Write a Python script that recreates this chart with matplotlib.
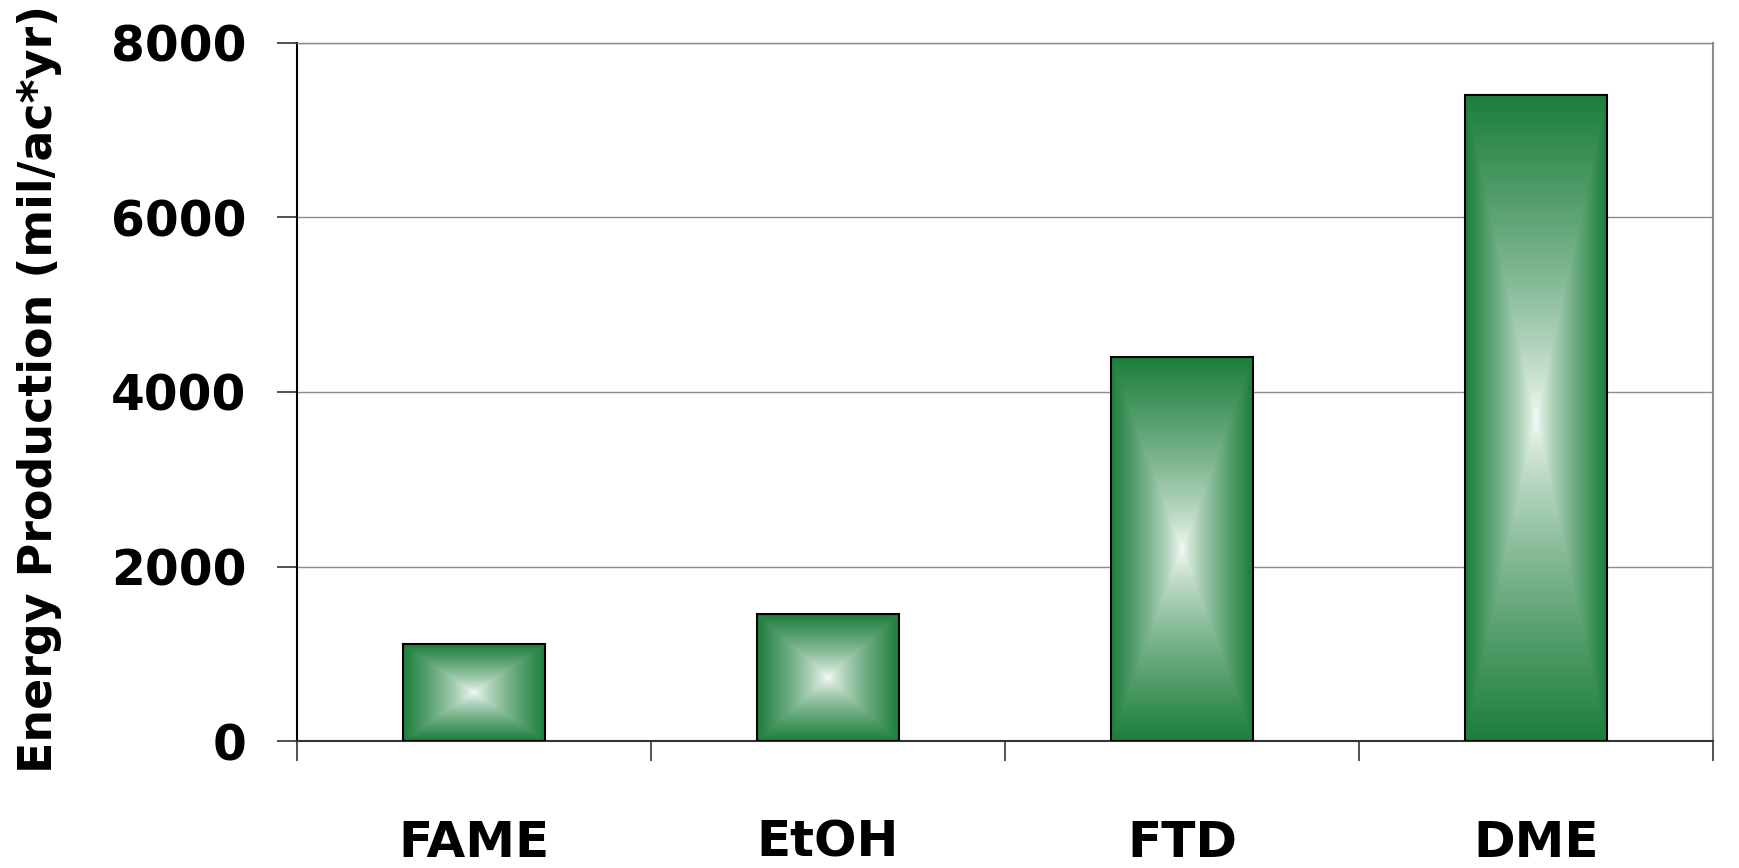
import numpy as np
import matplotlib
matplotlib.use("Agg")
from matplotlib import pyplot as plt

categories = ["FAME", "EtOH", "FTD", "DME"]
energy = [1110, 1450, 4400, 7400]
yticks = [0, 2000, 4000, 6000, 8000]

green = np.array([28, 126, 60]) / 255.0
white = np.array([250, 253, 250]) / 255.0

fig = plt.figure(figsize=(17.39, 8.68), dpi=100)
ax = fig.add_axes([0.1708, 0.1463, 0.8142, 0.8042])

x = np.arange(len(categories))
bars = ax.bar(x, energy, width=0.40, facecolor="none", edgecolor="black",
              linewidth=1.5, zorder=4)

# rectangle-from-centre gradient inside every bar
n = 300
u = np.linspace(-1, 1, n)
uu, vv = np.meshgrid(u, u)
t = np.maximum(np.abs(uu), np.abs(vv)) ** 0.75
img = white + (green - white) * t[..., None]
for b in bars:
    x0 = b.get_x()
    ax.imshow(img, extent=[x0, x0 + b.get_width(), 0, b.get_height()],
              aspect="auto", interpolation="bilinear", zorder=3)

ax.set_xlim(-0.5, len(categories) - 0.5)
ax.set_ylim(0, 8000)
ax.set_yticks(yticks)
ax.set_yticklabels([str(v) for v in yticks])
ax.yaxis.grid(True, color="#8a8a8a", linewidth=1.0, zorder=0)
ax.set_axisbelow(True)

ax.set_xticks(x)
ax.set_xticklabels(categories)
ax.set_xticks(np.arange(len(categories) + 1) - 0.5, minor=True)
ax.tick_params(axis="x", which="major", length=0, pad=56, labelsize=36)
ax.tick_params(axis="x", which="minor", length=14.4, width=1.2, color="#333333")
ax.tick_params(axis="y", length=14.4, width=1.2, color="#333333", pad=22, labelsize=35)
for lab in ax.get_xticklabels() + ax.get_yticklabels():
    lab.set_fontweight("bold")

ax.spines["left"].set_color("black")
ax.spines["left"].set_linewidth(1.5)
ax.spines["bottom"].set_color("#333333")
ax.spines["bottom"].set_linewidth(1.5)
ax.spines["right"].set_color("#8a8a8a")
ax.spines["right"].set_linewidth(1.5)
ax.spines["top"].set_color("#8a8a8a")
ax.spines["top"].set_linewidth(1.0)

ax.set_ylabel("Energy Production (mil/ac*yr)", fontsize=33, fontweight="bold")
ax.yaxis.set_label_coords(-0.166, 0.505)

fig.savefig("out.png", dpi=100)
